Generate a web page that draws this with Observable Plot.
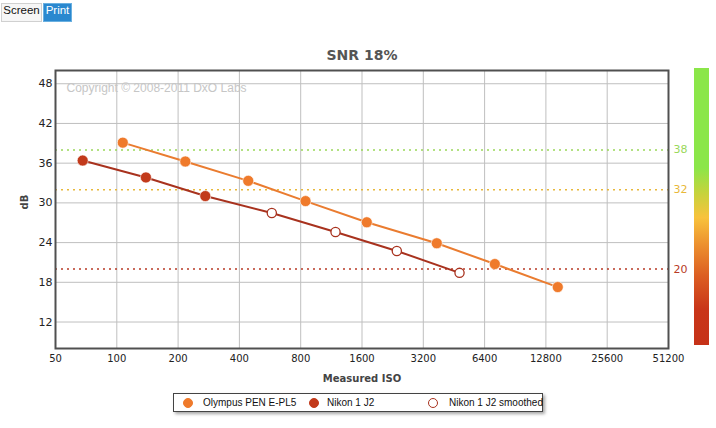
<!DOCTYPE html>
<html>
<head>
<meta charset="utf-8">
<script src="https://cdn.jsdelivr.net/npm/d3@7"></script>
<script src="https://cdn.jsdelivr.net/npm/@observablehq/plot@0.6"></script>
<style>
  html, body { margin: 0; padding: 0; background: #fff; }
  #wrap { position: relative; width: 716px; height: 428px; overflow: hidden; }
  #chart { position: absolute; left: 0; top: 0; }
  .btn { position: absolute; top: 3px; height: 19px; line-height: 18px; font: 11.5px "Liberation Sans", Arial, sans-serif; box-sizing: border-box; text-align: center; }
  #screen { left: 1px; width: 41px; background: #f6f6f6; border: 1px solid #d0d0d0; color: #111; }
  #print { left: 43px; width: 29px; background: #2a88cf; border: 1px solid #6ab0e0; color: #fff; }
  #bar { position: absolute; left: 694px; top: 68px; width: 15px; height: 277px;
    background: linear-gradient(to bottom, #8be649 0%, #8be649 36%, #c5d33c 45%, #f8c23c 54%, #ec8f2e 64%, #dc5e22 75%, #c93619 87%, #c63218 100%); }
  #legend { position: absolute; left: 173px; top: 393px; width: 370px; height: 19px; box-sizing: border-box;
    border: 1px solid #444; background: #fff; box-shadow: 2px 2px 3px rgba(0,0,0,0.35);
    font: 10px "Liberation Sans", Arial, sans-serif; color: #111; }
  .li { position: absolute; top: 3px; white-space: nowrap; }
  .dot { position: absolute; top: 4px; width: 10px; height: 10px; border-radius: 50%; box-sizing: border-box; }
</style>
</head>
<body>
<div id="wrap">
  <div id="chart"></div>
  <div class="btn" id="screen">Screen</div>
  <div class="btn" id="print">Print</div>
  <div id="bar"></div>
  <div id="legend"></div>
</div>
<script>
// ---- data ----
const isoTicks = [50, 100, 200, 400, 800, 1600, 3200, 6400, 12800, 25600, 51200];
const dbTicks = [12, 18, 24, 30, 36, 42, 48];

const olympusISO = [107, 217, 442, 845, 1689, 3727, 7186, 14640];
const olympusDB  = [39.1, 36.25, 33.33, 30.27, 27.07, 23.9, 20.76, 17.28];

const nikonISO = [68, 139, 272];
const nikonDB  = [36.4, 33.84, 31.03];

const nikonSmoothISO = [577, 1186, 2372, 4820];
const nikonSmoothDB  = [28.47, 25.61, 22.74, 19.43];

const refLevels = [38, 32, 20];
const refColors = ["#9ad85a", "#e8b83a", "#b83a26"];

const seriesNames = ["Olympus PEN E-PL5", "Nikon 1 J2", "Nikon 1 J2 smoothed"];
const orange = "#ef7a2b", orangeLine = "#ea7c30";
const red = "#c23a1b", redLine = "#a8321e";

// ---- build tables ----
const olympus = olympusISO.map((x, i) => ({x, y: olympusDB[i]}));
const nikon = nikonISO.map((x, i) => ({x, y: nikonDB[i]}));
const nikonSmooth = nikonSmoothISO.map((x, i) => ({x, y: nikonSmoothDB[i]}));
const nikonAll = nikon.concat(nikonSmooth);
const refs = refLevels.map((v, i) => ({v, c: refColors[i]}));

const plot = Plot.plot({
  width: 716,
  height: 428,
  marginLeft: 55,
  marginRight: 48,
  marginTop: 70,
  marginBottom: 80,
  style: {fontFamily: "'DejaVu Sans', Verdana, sans-serif", background: "transparent"},
  x: {type: "log", base: 2, domain: [50, 51200]},
  y: {domain: [8, 50]},
  marks: [
    Plot.ruleX(isoTicks.slice(1, -1), {stroke: "#bfbfbf", strokeWidth: 1}),
    Plot.ruleY(dbTicks, {stroke: "#bfbfbf", strokeWidth: 1}),
    Plot.text(["Copyright © 2008-2011 DxO Labs"], {frameAnchor: "top-left", dx: 11, dy: 13, textAnchor: "start",
      fill: "#c6c6c6", fontSize: 12, fontFamily: "'Liberation Sans', Arial, sans-serif"}),
    Plot.ruleY(refs, {y: "v", stroke: "c", strokeWidth: 1.5, strokeDasharray: "2,4"}),
    Plot.text(refs, {x: () => 51200, y: "v", text: d => String(d.v), fill: "c", textAnchor: "start", dx: 5, fontSize: 11}),
    Plot.axisX({ticks: isoTicks, tickFormat: d => String(d), tickSize: 0, tickPadding: 6, fontSize: 10, fill: "#222", label: null}),
    Plot.axisY({ticks: dbTicks, tickSize: 0, tickPadding: 3, fontSize: 11, fill: "#222", label: null}),
    Plot.line(olympus, {x: "x", y: "y", stroke: orangeLine, strokeWidth: 2}),
    Plot.line(nikonAll, {x: "x", y: "y", stroke: redLine, strokeWidth: 2}),
    Plot.dot(olympus, {x: "x", y: "y", r: 5.5, fill: orange, stroke: "#fff", strokeOpacity: 0.6, strokeWidth: 1}),
    Plot.dot(nikon, {x: "x", y: "y", r: 5.5, fill: red, stroke: "#fff", strokeOpacity: 0.6, strokeWidth: 1}),
    Plot.dot(nikonSmooth, {x: "x", y: "y", r: 4.6, fill: "#fff", stroke: redLine, strokeWidth: 1.3}),
    Plot.frame({stroke: "#505050", strokeWidth: 2}),
    Plot.text(["SNR 18%"], {frameAnchor: "top", dy: -20, fontSize: 14, fontWeight: "bold", fill: "#555"}),
    Plot.text(["Measured ISO"], {frameAnchor: "bottom", dy: 33, fontSize: 10, fontWeight: "bold", fill: "#444"}),
    Plot.text(["dB"], {frameAnchor: "left", dx: -31, rotate: -90, fontSize: 10, fontWeight: "bold", fill: "#444"})
  ]
});
document.getElementById("chart").appendChild(plot);

// ---- legend ----
const legend = document.getElementById("legend");
const items = [
  {name: seriesNames[0], dotX: 9, textX: 29, fill: orange, stroke: orange},
  {name: seriesNames[1], dotX: 135, textX: 153, fill: red, stroke: red},
  {name: seriesNames[2], dotX: 254, textX: 275, fill: "#fff", stroke: redLine}
];
items.forEach(it => {
  const d = document.createElement("div");
  d.className = "dot";
  d.style.left = it.dotX + "px";
  d.style.background = it.fill;
  d.style.border = "1.3px solid " + it.stroke;
  legend.appendChild(d);
  const t = document.createElement("div");
  t.className = "li";
  t.style.left = it.textX + "px";
  t.textContent = it.name;
  legend.appendChild(t);
});
</script>
</body>
</html>
